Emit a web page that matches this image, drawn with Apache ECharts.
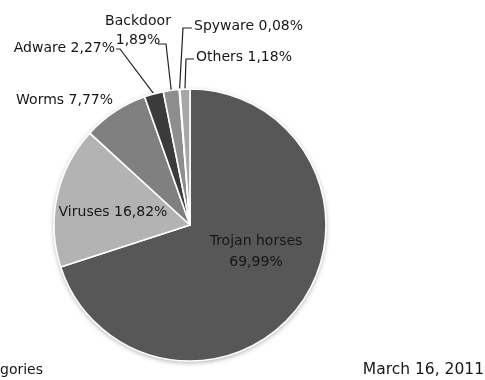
<!DOCTYPE html>
<html><head><meta charset="utf-8">
<script src="https://cdn.jsdelivr.net/npm/echarts@6/dist/echarts.min.js"></script>
<style>html,body{margin:0;padding:0;background:#fff}#c{width:485px;height:380px}</style>
</head><body><div id="c"></div>
<script>
const categories = ['Trojan horses', 'Viruses', 'Worms', 'Adware', 'Backdoor', 'Spyware', 'Others'];
const shares = [69.99, 16.82, 7.77, 2.27, 1.89, 0.08, 1.18];
const sliceColors = ['#575757', '#b3b3b3', '#808080', '#3b3b3b', '#8e8e8e', '#e6e6e6', '#a6a6a6'];
const footerLeft = 'gories';
const footerRight = 'March 16, 2011';

const fmt = v => v.toFixed(2).replace('.', ',') + '%';
const twoLine = { 'Trojan horses': 21, 'Backdoor': 19 };
const inside = { 'Trojan horses': true, 'Viruses': true };

// label placement (layout only)
const labelPlace = {
  'Trojan horses': { x: 256, y: 252, align: 'center' },
  'Viruses': { x: 113, y: 212, align: 'center' },
  'Worms': { x: 113, y: 100, align: 'right' },
  'Adware': { x: 115, y: 48, align: 'right', end: [116, 49], dir: 1, l2: 4 },
  'Backdoor': { x: 138, y: 31, align: 'center', end: [158, 44], dir: 1, l2: 8 },
  'Spyware': { x: 194, y: 26, align: 'left', end: [192, 28], dir: -1, l2: 9 },
  'Others': { x: 196, y: 57, align: 'left', end: [194, 59], dir: -1, l2: 8 }
};

const font = 'DejaVu Sans';
const textColor = '#161616';
const total = shares.reduce((a, b) => a + b, 0);
const data = categories.map((name, i) => {
  const item = {
    name: name,
    value: shares[i],
    itemStyle: { color: sliceColors[i] },
    label: {
      position: inside[name] ? 'inside' : 'outside',
      lineHeight: twoLine[name] || 17
    }
  };
  if (inside[name] || name === 'Worms') item.labelLine = { show: false };
  return item;
});

const chart = echarts.init(document.getElementById('c'), null, { renderer: 'canvas' });
chart.setOption({
  animation: false,
  backgroundColor: '#ffffff',
  title: [
    { text: footerLeft, left: 0, top: 363, padding: 0,
      textStyle: { fontFamily: font, fontSize: 14, fontWeight: 'normal', color: textColor } },
    { text: footerRight, right: 1, top: 362, padding: 0,
      textStyle: { fontFamily: font, fontSize: 15.5, fontWeight: 'normal', color: textColor } }
  ],
  series: [{
    // soft rim behind the pie
    type: 'pie',
    center: [190, 225],
    radius: 136,
    silent: true,
    z: 1,
    label: { show: false },
    labelLine: { show: false },
    itemStyle: { color: '#575757', shadowBlur: 5, shadowColor: 'rgba(0,0,0,0.35)', shadowOffsetY: 1.5 },
    data: [{ name: 'all', value: total }]
  }, {
    type: 'pie',
    center: [190, 225],
    radius: 136,
    startAngle: 90,
    clockwise: true,
    avoidLabelOverlap: false,
    silent: true,
    z: 2,
    itemStyle: { borderColor: '#ffffff', borderWidth: 1.6 },
    label: {
      show: true,
      fontFamily: font,
      fontSize: 14,
      color: textColor,
      formatter: p => twoLine[p.name] ? p.name + '\n' + fmt(p.value) : p.name + ' ' + fmt(p.value)
    },
    labelLine: { show: true, length: 10, length2: 8, lineStyle: { color: '#222', width: 1.2 } },
    labelLayout: function (params) {
      if (params.seriesIndex !== 1) return {};
      const name = categories[params.dataIndex];
      const pl = labelPlace[name];
      const out = { x: pl.x, y: pl.y, align: pl.align, verticalAlign: 'middle' };
      if (pl.end && params.labelLinePoints) {
        const p0 = params.labelLinePoints[0];
        out.labelLinePoints = [
          [p0[0], p0[1]],
          [pl.end[0] + pl.dir * pl.l2, pl.end[1]],
          [pl.end[0], pl.end[1]]
        ];
      }
      return out;
    },
    data: data
  }]
});
</script></body></html>
